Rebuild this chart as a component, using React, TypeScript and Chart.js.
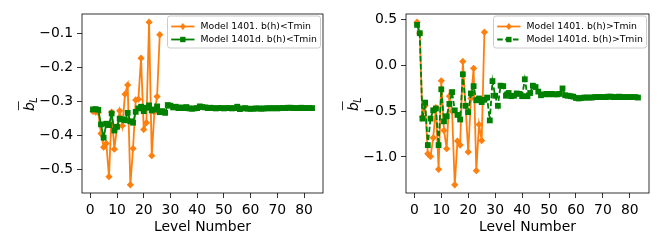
import React, { useEffect, useRef } from 'react';
import { Chart, registerables } from 'chart.js';

Chart.register(...registerables);

// ---------- data ----------
const levelsOrange = Array.from({ length: 26 }, (_, i) => i + 1);
const levelsGreen = Array.from({ length: 83 }, (_, i) => i + 1);

const leftOrange = [
  -0.330, -0.332, -0.333, -0.395, -0.435, -0.424, -0.522, -0.332, -0.441, -0.377,
  -0.328, -0.372, -0.279, -0.252, -0.546, -0.439, -0.296, -0.294, -0.173, -0.383,
  -0.363, -0.067, -0.460, -0.332, -0.286, -0.104,
];
const leftGreen = [
  -0.324, -0.323, -0.325, -0.368, -0.407, -0.366, -0.370, -0.336, -0.386, -0.375,
  -0.351, -0.353, -0.356, -0.334, -0.359, -0.363, -0.331, -0.321, -0.316, -0.329,
  -0.319, -0.312, -0.327, -0.324, -0.315, -0.332, -0.329, -0.334, -0.311, -0.313,
  -0.318, -0.316, -0.320, -0.318, -0.320, -0.317, -0.321, -0.322, -0.321, -0.320,
  -0.315, -0.317, -0.318, -0.320, -0.319, -0.320, -0.321, -0.320, -0.320, -0.321,
  -0.320, -0.320, -0.321, -0.320, -0.316, -0.323, -0.321, -0.320, -0.322, -0.322,
  -0.322, -0.321, -0.321, -0.322, -0.321, -0.321, -0.320, -0.321, -0.320, -0.321,
  -0.320, -0.320, -0.320, -0.319, -0.319, -0.320, -0.320, -0.320, -0.319, -0.320,
  -0.320, -0.320, -0.320,
];
const rightOrange = [
  0.475, 0.354, -0.56, -0.44, -0.965, -0.995, -0.79, -0.46, -1.135, -0.166,
  -0.71, -0.91, -0.335, -0.50, -1.305, -0.825, -0.87, 0.045, -0.44, -0.945,
  -0.36, -0.03, -1.15, -0.645, -0.82, 0.365,
];
const rightGreen = [
  0.445, 0.354, -0.58, -0.405, -0.87, -0.58, -0.49, -0.47, -0.87, -0.26,
  -0.61, -0.555, -0.42, -0.29, -0.49, -0.54, -0.59, -0.095, -0.44, -0.51,
  -0.305, -0.225, -0.38, -0.36, -0.40, -0.375, -0.35, -0.60, -0.17, -0.33,
  -0.44, -0.22, -0.225, -0.33, -0.30, -0.335, -0.33, -0.305, -0.31, -0.335,
  -0.15, -0.335, -0.30, -0.22, -0.235, -0.285, -0.325, -0.315, -0.31, -0.315,
  -0.31, -0.315, -0.315, -0.31, -0.25, -0.325, -0.33, -0.335, -0.34, -0.355,
  -0.36, -0.355, -0.35, -0.35, -0.35, -0.35, -0.345, -0.345, -0.345, -0.345,
  -0.345, -0.34, -0.34, -0.345, -0.345, -0.34, -0.345, -0.345, -0.345, -0.345,
  -0.345, -0.345, -0.35,
];

const xTicks = [0, 10, 20, 30, 40, 50, 60, 70, 80];
const xTickLabels = ['0', '10', '20', '30', '40', '50', '60', '70', '80'];
const leftYTicks = [-0.5, -0.4, -0.3, -0.2, -0.1];
const leftYTickLabels = ['\u22120.5', '\u22120.4', '\u22120.3', '\u22120.2', '\u22120.1'];
const rightYTicks = [-1.0, -0.5, 0.0, 0.5];
const rightYTickLabels = ['\u22121.0', '\u22120.5', '0.0', '0.5'];
const leftLegend = ['Model 1401. b(h)<Tmin', 'Model 1401d. b(h)<Tmin'];
const rightLegend = ['Model 1401. b(h)>Tmin', 'Model 1401d. b(h)>Tmin'];
const xTitle = 'Level Number';

// ---------- style ----------
const ORANGE = '#ff7f0e';
const GREEN = '#008000';
const FONT = '"DejaVu Sans", sans-serif';
const TICK_FONT = 13.9;
const LEGEND_FONT = 9.3;
const LINE_W = 1.8;
const W = 332;
const H = 249;

function padRange(vals: number[], m = 0.05): [number, number] {
  const mn = Math.min(...vals);
  const mx = Math.max(...vals);
  const d = (mx - mn) * m;
  return [mn - d, mx + d];
}

function drawDiamond(ctx: CanvasRenderingContext2D, x: number, y: number, r: number, color: string) {
  ctx.beginPath();
  ctx.moveTo(x, y - r);
  ctx.lineTo(x + r * 0.8, y);
  ctx.lineTo(x, y + r);
  ctx.lineTo(x - r * 0.8, y);
  ctx.closePath();
  ctx.fillStyle = color;
  ctx.fill();
}

function drawSquare(ctx: CanvasRenderingContext2D, x: number, y: number, s: number, color: string) {
  ctx.fillStyle = color;
  ctx.fillRect(x - s / 2, y - s / 2, s, s);
}

interface PanelCfg {
  orange: number[];
  green: number[];
  yTicks: number[];
  yTickLabels: string[];
  legend: string[];
  chartLeft: number;
  chartRight: number;
  greenDash: number[];
  yLabelX: number;
}

function makeChart(canvas: HTMLCanvasElement, cfg: PanelCfg) {
  const [xMin, xMax] = padRange([1, levelsGreen[levelsGreen.length - 1]]);
  const [yMin, yMax] = padRange([...cfg.orange, ...cfg.green]);

  const decor = {
    id: 'decor',
    afterDraw(chart: any) {
      const ctx: CanvasRenderingContext2D = chart.ctx;
      const a = chart.chartArea;
      ctx.save();
      // frame
      ctx.strokeStyle = '#000';
      ctx.lineWidth = 0.8;
      ctx.strokeRect(a.left, a.top, a.right - a.left, a.bottom - a.top);

      // legend
      const bw = 153;
      const bx = a.right - 2.5 - bw;
      const by = a.top + 2;
      const bh = 32;
      ctx.beginPath();
      const rr = 2.5;
      ctx.moveTo(bx + rr, by);
      ctx.arcTo(bx + bw, by, bx + bw, by + bh, rr);
      ctx.arcTo(bx + bw, by + bh, bx, by + bh, rr);
      ctx.arcTo(bx, by + bh, bx, by, rr);
      ctx.arcTo(bx, by, bx + bw, by, rr);
      ctx.closePath();
      ctx.fillStyle = 'rgba(255,255,255,0.8)';
      ctx.fill();
      ctx.strokeStyle = '#cccccc';
      ctx.lineWidth = 1;
      ctx.stroke();

      const rows = [by + 10.5, by + 23.5];
      const lx0 = bx + 3.7;
      const lx1 = bx + 27;
      const lmid = (lx0 + lx1) / 2;
      // orange row
      ctx.strokeStyle = ORANGE;
      ctx.lineWidth = LINE_W;
      ctx.setLineDash([]);
      ctx.beginPath();
      ctx.moveTo(lx0, rows[0]);
      ctx.lineTo(lx1, rows[0]);
      ctx.stroke();
      drawDiamond(ctx, lmid, rows[0], 3.6, ORANGE);
      // green row
      ctx.strokeStyle = GREEN;
      ctx.setLineDash(cfg.greenDash);
      ctx.beginPath();
      ctx.moveTo(lx0, rows[1]);
      ctx.lineTo(lx1, rows[1]);
      ctx.stroke();
      ctx.setLineDash([]);
      drawSquare(ctx, lmid, rows[1], 5.4, GREEN);

      ctx.fillStyle = '#000';
      ctx.font = `${LEGEND_FONT}px ${FONT}`;
      ctx.textAlign = 'left';
      ctx.textBaseline = 'middle';
      ctx.fillText(cfg.legend[0], bx + 33, rows[0]);
      ctx.fillText(cfg.legend[1], bx + 33, rows[1]);

      // x title
      ctx.font = `${TICK_FONT}px ${FONT}`;
      ctx.textAlign = 'center';
      ctx.textBaseline = 'alphabetic';
      ctx.fillText(xTitle, (a.left + a.right) / 2, 231);

      // y label: overline b, subscript L (rotated)
      ctx.save();
      ctx.translate(cfg.yLabelX, 111);
      ctx.rotate(-Math.PI / 2);
      ctx.textAlign = 'left';
      ctx.textBaseline = 'alphabetic';
      ctx.font = `italic ${TICK_FONT}px ${FONT}`;
      ctx.fillText('b', 0, 0);
      const bwid = ctx.measureText('b').width;
      ctx.fillRect(0.8, -16, bwid, 0.8);
      ctx.font = `italic 9.7px ${FONT}`;
      ctx.fillText('L', bwid - 0.6, 2.8);
      ctx.restore();

      ctx.restore();
    },
  };

  const tickFont = { family: FONT, size: TICK_FONT };
  const grid = {
    display: true,
    drawOnChartArea: false,
    drawTicks: true,
    tickLength: 5,
    color: '#000',
    lineWidth: 0.8,
  };

  return new Chart(canvas, {
    type: 'line',
    data: {
      datasets: [
        {
          label: cfg.legend[1],
          data: levelsGreen.map((x, i) => ({ x, y: cfg.green[i] })),
          borderColor: GREEN,
          backgroundColor: GREEN,
          borderWidth: LINE_W,
          borderDash: cfg.greenDash,
          pointStyle: 'rect',
          pointRadius: 4.1,
          pointBorderWidth: 0,
          pointBackgroundColor: GREEN,
          tension: 0,
          order: 0,
        },
        {
          label: cfg.legend[0],
          data: levelsOrange.map((x, i) => ({ x, y: cfg.orange[i] })),
          borderColor: ORANGE,
          backgroundColor: ORANGE,
          borderWidth: LINE_W,
          pointStyle: 'rectRot',
          pointRadius: 3.6,
          pointBorderWidth: 0,
          pointBackgroundColor: ORANGE,
          tension: 0,
          order: 1,
        },
      ],
    },
    options: {
      animation: false,
      responsive: false,
      maintainAspectRatio: false,
      devicePixelRatio: 1,
      events: [],
      layout: { padding: { left: 0, right: W - cfg.chartRight, top: 14, bottom: 0 } },
      plugins: { legend: { display: false }, tooltip: { enabled: false }, title: { display: false } },
      scales: {
        x: {
          type: 'linear',
          min: xMin,
          max: xMax,
          afterBuildTicks: (axis: any) => {
            axis.ticks = xTicks.map((v) => ({ value: v }));
          },
          afterFit: (s: any) => {
            s.height = H - 193;
          },
          grid,
          border: { display: false },
          ticks: {
            font: tickFont,
            color: '#000',
            padding: 4,
            maxRotation: 0,
            autoSkip: false,
            callback: (_v: any, i: number) => xTickLabels[i],
          },
        },
        y: {
          type: 'linear',
          min: yMin,
          max: yMax,
          afterBuildTicks: (axis: any) => {
            axis.ticks = cfg.yTicks.map((v) => ({ value: v }));
          },
          afterFit: (s: any) => {
            s.width = cfg.chartLeft;
          },
          grid,
          border: { display: false },
          ticks: {
            font: tickFont,
            color: '#000',
            padding: 4,
            autoSkip: false,
            callback: (_v: any, i: number) => cfg.yTickLabels[i],
          },
        },
      },
    },
    plugins: [decor],
  } as any);
}

function Panel(props: { cfg: PanelCfg; left: number }) {
  const ref = useRef<HTMLCanvasElement>(null);
  useEffect(() => {
    if (!ref.current) return;
    const chart = makeChart(ref.current, props.cfg);
    return () => chart.destroy();
  }, []);
  return (
    <canvas
      ref={ref}
      width={W}
      height={H}
      style={{ position: 'absolute', left: props.left, top: 0, width: W, height: H }}
    />
  );
}

const leftCfg: PanelCfg = {
  orange: leftOrange,
  green: leftGreen,
  yTicks: leftYTicks,
  yTickLabels: leftYTickLabels,
  legend: leftLegend,
  chartLeft: 82,
  chartRight: 323,
  greenDash: [],
  yLabelX: 34,
};

const rightCfg: PanelCfg = {
  orange: rightOrange,
  green: rightGreen,
  yTicks: rightYTicks,
  yTickLabels: rightYTickLabels,
  legend: rightLegend,
  chartLeft: 74,
  chartRight: 317,
  greenDash: [5.5, 2.4],
  yLabelX: 26,
};

export default function App() {
  return (
    <div style={{ position: 'fixed', left: 0, top: 0, width: 664, height: 249, background: '#fff' }}>
      <Panel cfg={leftCfg} left={0} />
      <Panel cfg={rightCfg} left={332} />
    </div>
  );
}
